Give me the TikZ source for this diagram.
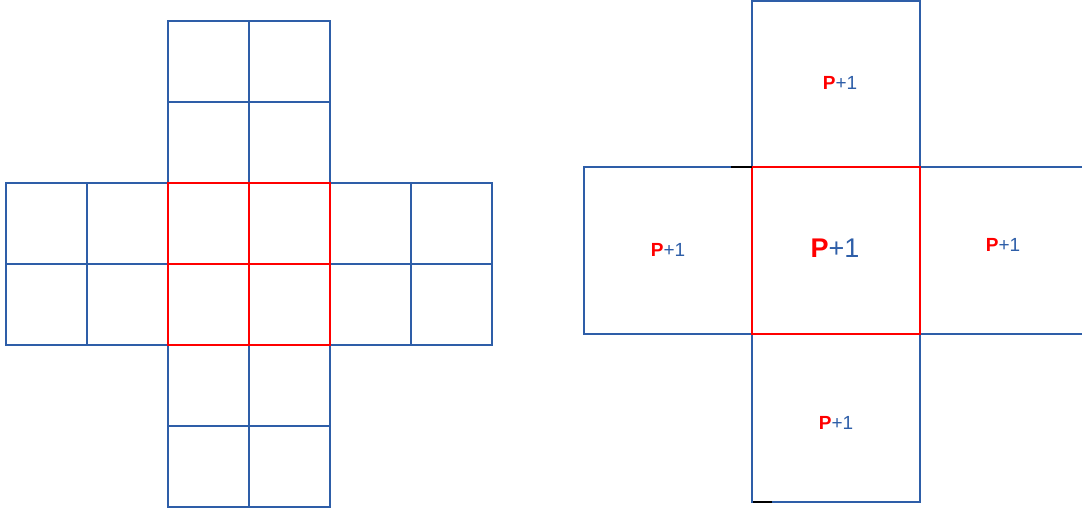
\documentclass[tikz,border=0pt]{standalone}
\usepackage{fontspec}
\setmainfont{Liberation Sans}
\definecolor{gridblue}{RGB}{46,94,168}
\definecolor{hotred}{RGB}{255,0,0}
\newcommand{\plabel}{\textcolor{hotred}{\bfseries P}\textcolor{gridblue}{+1}}
\begin{document}
\begin{tikzpicture}[x=1pt,y=-1pt,
  blueline/.style={draw=gridblue,line width=2pt},
  redline/.style={draw=hotred,line width=2pt},
  tick/.style={draw=black,line width=2pt},
  lbl/.style={font=\fontsize{19}{19}\selectfont},
  biglbl/.style={font=\fontsize{27}{27}\selectfont}]
\useasboundingbox (0,0) rectangle (1082,512);
% ---- cross of 2x2 blocks made of unit cells
\foreach \x in {6,87} \foreach \y in {183,264}
  \draw[blueline] (\x,\y) rectangle ++(81,81);
\foreach \x in {330,411} \foreach \y in {183,264}
  \draw[blueline] (\x,\y) rectangle ++(81,81);
\foreach \x in {168,249} \foreach \y in {21,102,345,426}
  \draw[blueline] (\x,\y) rectangle ++(81,81);
\foreach \x in {168,249} \foreach \y in {183,264}
  \draw[redline] (\x,\y) rectangle ++(81,81);
% ---- coarse cross: one block per arm
\draw[blueline] (752,1) rectangle (920,167);
\draw[blueline] (752,334) rectangle (920,502);
\draw[blueline] (584,167) rectangle (752,334);
\draw[blueline] (1084,167) -- (920,167) (920,334) -- (1084,334);
\draw[redline] (752,167) rectangle (920,334);
\coordinate (t1a) at (731,167); \coordinate (t1b) at (752,167);
\coordinate (t2a) at (753,502); \coordinate (t2b) at (772,502);
\draw[tick] (t1a) -- (t1b);
\draw[tick] (t2a) -- (t2b);
% ---- labels
\node[lbl] (ltop) at (840,83) {\plabel};
\node[lbl] (lleft) at (668,250) {\plabel};
\node[biglbl] (lmid) at (835,248) {\plabel};
\node[lbl] (lright) at (1003,245) {\plabel};
\node[lbl] (lbot) at (836,423) {\plabel};
\end{tikzpicture}
\end{document}
